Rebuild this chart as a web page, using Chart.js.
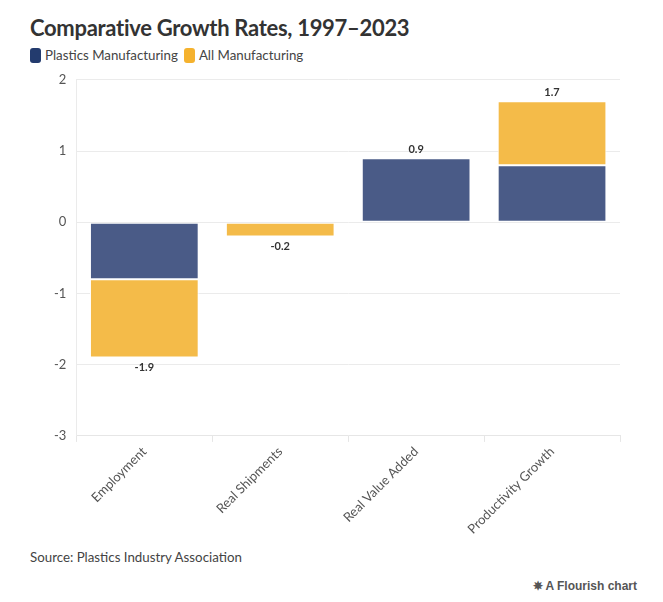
<!DOCTYPE html>
<html>
<head>
<meta charset="utf-8">
<script src="https://cdn.jsdelivr.net/npm/chart.js@4.4.1/dist/chart.umd.min.js"></script>
<style>
  html, body { margin: 0; padding: 0; background: #fff; }
  body { width: 663px; height: 602px; position: relative; font-family: Lato, "Noto Sans", sans-serif; color: #333; overflow: hidden; }
  #title { position: absolute; left: 30px; top: 14px; font-size: 22px; font-weight: 700; color: #333; letter-spacing: -0.3px; }
  #legend { position: absolute; left: 30px; top: 47px; font-size: 13.3px; color: #444; display: flex; align-items: center; }
  .key { display: inline-block; width: 11px; height: 15px; border-radius: 3px; margin-right: 4px; }
  .item { display: flex; align-items: center; margin-right: 6px; }
  #wrap { position: absolute; left: 0; top: 62px; width: 663px; height: 477px; }
  #source { position: absolute; left: 30px; top: 549px; font-size: 13.3px; color: #444; }
  #flourish { position: absolute; right: 26px; top: 579px; font-size: 12px; font-weight: 700; color: #555; font-family: "Liberation Sans", Arial, sans-serif; }
</style>
</head>
<body>
<div id="title">Comparative Growth Rates, 1997–2023</div>
<div id="legend">
  <span class="item"><span class="key" style="background:#233b6e"></span>Plastics Manufacturing</span>
  <span class="item"><span class="key" style="background:#f5b22e"></span>All Manufacturing</span>
</div>
<div id="wrap"><canvas id="chart"></canvas></div>
<div id="source">Source: Plastics Industry Association</div>
<div id="flourish">&#10037; A Flourish chart</div>
<script>
  // Chart data
  const categories = ['Employment', 'Real Shipments', 'Real Value Added', 'Productivity Growth'];
  const plastics = [-0.8, 0, 0.9, 0.8];
  const allManufacturing = [-1.1, -0.2, 0, 0.9];
  const totals = [-1.9, -0.2, 0.9, 1.7];
  const yTicks = [2, 1, 0, -1, -2, -3];

  const fontFamily = 'Lato, "Noto Sans", sans-serif';

  // Draw the total above / below each stack
  const totalLabels = {
    id: 'totalLabels',
    afterDatasetsDraw(chart) {
      const ctx = chart.ctx;
      const x = chart.scales.x;
      const y = chart.scales.y;
      ctx.save();
      ctx.font = 'bold 11px ' + fontFamily;
      ctx.fillStyle = '#333';
      ctx.textAlign = 'center';
      totals.forEach((t, i) => {
        const px = x.getPixelForValue(i);
        const py = y.getPixelForValue(t);
        if (t >= 0) {
          ctx.textBaseline = 'bottom';
          ctx.fillText(t.toFixed(1), px, py - 3);
        } else {
          ctx.textBaseline = 'top';
          ctx.fillText(t.toFixed(1), px, py + 4);
        }
      });
      ctx.restore();
    }
  };

  const barStyle = {
    borderColor: '#ffffff',
    borderWidth: 1,
    borderSkipped: false,
    categoryPercentage: 1,
    barPercentage: 0.8
  };

  new Chart(document.getElementById('chart'), {
    type: 'bar',
    data: {
      labels: categories,
      datasets: [
        { label: 'Plastics Manufacturing', data: plastics, backgroundColor: '#4a5b87', ...barStyle },
        { label: 'All Manufacturing', data: allManufacturing, backgroundColor: '#f4bb49', ...barStyle }
      ]
    },
    options: {
      responsive: true,
      maintainAspectRatio: false,
      animation: false,
      layout: { padding: { left: 44, right: 43, top: 4, bottom: 0 } },
      plugins: {
        legend: { display: false },
        tooltip: { enabled: false }
      },
      scales: {
        x: {
          stacked: true,
          grid: { drawOnChartArea: false, drawTicks: true, tickLength: 6, color: '#e6e6e6' },
          border: { display: true, color: '#e6e6e6' },
          ticks: {
            maxRotation: 45,
            minRotation: 45,
            color: '#555',
            font: { family: fontFamily, size: 13 },
            padding: 2
          }
        },
        y: {
          stacked: true,
          min: Math.min(...yTicks),
          max: Math.max(...yTicks),
          afterBuildTicks(axis) {
            axis.ticks = yTicks.map(v => ({ value: v }));
          },
          grid: { color: '#ebebeb', drawTicks: false },
          border: { display: true, color: '#ebebeb' },
          ticks: {
            color: '#555',
            font: { family: fontFamily, size: 13 },
            padding: 10
          }
        }
      }
    },
    plugins: [totalLabels]
  });
</script>
</body>
</html>
